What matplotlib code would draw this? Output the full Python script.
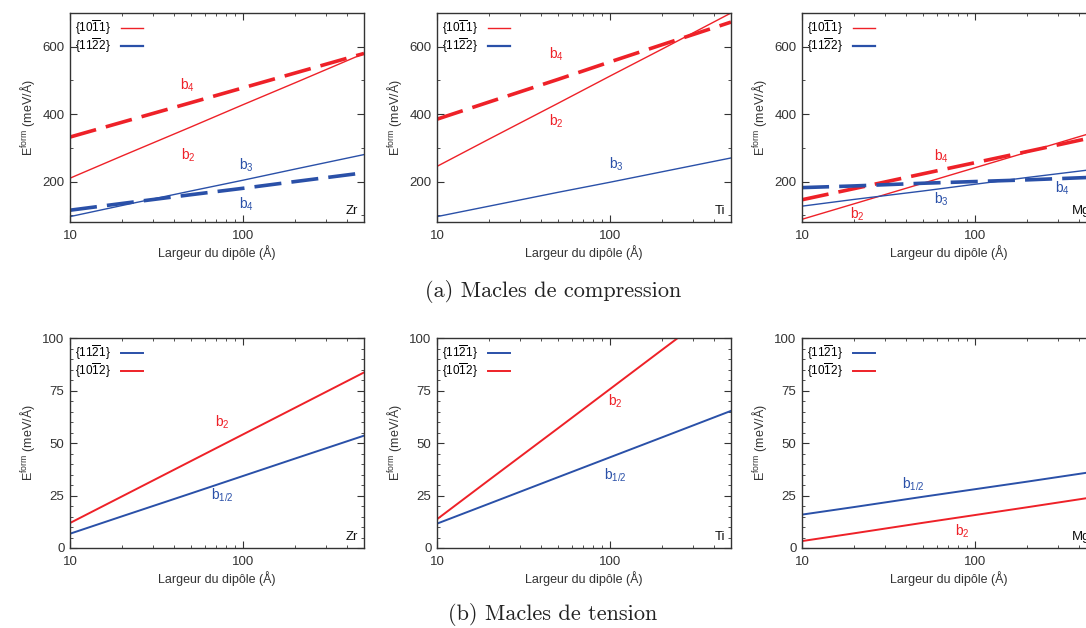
import numpy as np
import matplotlib
matplotlib.use("Agg")
import matplotlib.pyplot as plt
from matplotlib.lines import Line2D
from matplotlib.ticker import MultipleLocator, LogLocator, NullFormatter, FixedLocator

plt.rcParams['font.family'] = ['Liberation Sans', 'DejaVu Sans']
plt.rcParams['mathtext.fontset'] = 'custom'
plt.rcParams['mathtext.rm'] = 'Liberation Sans'
plt.rcParams['mathtext.it'] = 'Liberation Sans:italic'
plt.rcParams['mathtext.default'] = 'regular'

RED = '#ee2128'
BLUE = '#2a50a8'
DARK = '#333333'

# dipole widths (Angstrom)
width = [10, 20, 50, 100, 200, 500]

# (a) compression twins : {10-11} red, {11-22} blue
zr_c_b2 = [210, 276, 362, 428, 493, 580]
zr_c_b4r = [332, 376, 434, 478, 522, 580]
zr_c_b3 = [96, 129, 172, 204, 237, 280]
zr_c_b4b = [115, 135, 161, 180, 200, 226]

ti_c_b2 = [245, 326, 432, 513, 593, 700]
ti_c_b4r = [385, 436, 503, 555, 606, 673]
ti_c_b3 = [96, 127, 168, 198, 229, 270]

mg_c_b2 = [88, 134, 195, 241, 287, 348]
mg_c_b4r = [146, 179, 223, 256, 289, 333]
mg_c_b3 = [127, 147, 172, 192, 212, 237]
mg_c_b4b = [182, 187, 195, 200, 205, 213]

# (b) tension twins : {11-21} blue, {10-12} red
zr_t_b2 = [11.9, 24.6, 41.4, 54.1, 66.8, 83.6]
zr_t_b12 = [6.8, 15.1, 26.0, 34.3, 42.6, 53.5]

ti_t_b2 = [13.7, 32.4, 57.0, 75.7, 94.4, 119.0]
ti_t_b12 = [11.6, 21.1, 33.7, 43.2, 52.7, 65.3]

mg_t_b2 = [3.3, 7.0, 12.0, 15.7, 19.4, 24.4]
mg_t_b12 = [15.9, 19.5, 24.4, 28.0, 31.6, 36.5]

elements = ['Zr', 'Ti', 'Mg']
compression_legend = [r'$\{10\overline{1}1\}$', r'$\{11\overline{2}2\}$']
tension_legend = [r'$\{11\overline{2}1\}$', r'$\{10\overline{1}2\}$']

FIG_W, FIG_H = 1086, 628
fig = plt.figure(figsize=(FIG_W / 100, FIG_H / 100), dpi=100)


def px_axes(left, top, right, bottom):
    return fig.add_axes([left / FIG_W, 1 - bottom / FIG_H,
                         (right - left) / FIG_W, (bottom - top) / FIG_H])


def style_axes(ax, ylim, ymajor, yminor):
    ax.set_xscale('log')
    ax.set_xlim(10, 500)
    ax.set_ylim(*ylim)
    ax.xaxis.set_major_locator(FixedLocator([10, 100]))
    ax.xaxis.set_major_formatter(plt.FuncFormatter(lambda v, p: '%d' % v))
    ax.xaxis.set_minor_locator(LogLocator(base=10, subs=np.arange(2, 10)))
    ax.xaxis.set_minor_formatter(NullFormatter())
    ax.yaxis.set_major_locator(FixedLocator(ymajor))
    ax.yaxis.set_minor_locator(MultipleLocator(yminor))
    ax.tick_params(which='both', direction='in', top=True, right=True,
                   colors=DARK, labelsize=9.5, labelcolor=DARK)
    ax.tick_params(which='major', length=5, width=0.8)
    ax.tick_params(which='minor', length=2.5, width=0.6)
    ax.tick_params(axis='x', which='major', pad=6)
    ax.tick_params(axis='y', which='major', pad=4)
    for s in ax.spines.values():
        s.set_color(DARK)
        s.set_linewidth(1.0)
    ax.set_xlabel('Largeur du dipôle (Å)', fontsize=9, color=DARK, labelpad=2)
    ax.set_ylabel(r'E$^{form}$ (meV/Å)', fontsize=9, color=DARK, labelpad=4)


def add_legend(ax, labels, colors, widths):
    handles = [Line2D([], [], color=c, lw=w) for c, w in zip(colors, widths)]
    ax.legend(handles, labels, loc='upper left', markerfirst=False,
              frameon=False, fontsize=8.5, handlelength=1.9, handletextpad=0.8,
              labelspacing=-0.1, borderaxespad=0.3, borderpad=0.15)


def element_tag(ax, name):
    ax.text(0.98, 0.025, name, transform=ax.transAxes, ha='right',
            va='bottom', fontsize=9.5, color='#111111')


dash = dict(lw=2.6, dashes=(7.5, 2.8))
thin = dict(lw=1.0)

cols = [(70, 364), (437, 731), (802, 1096)]
top_row = (13, 222)
bot_row = (338, 548)

# ---- (a) compression
comp = [
    (zr_c_b2, zr_c_b4r, zr_c_b3, zr_c_b4b),
    (ti_c_b2, ti_c_b4r, ti_c_b3, None),
    (mg_c_b2, mg_c_b4r, mg_c_b3, mg_c_b4b),
]
comp_labels = [
    [('b$_4$', 48, 485, RED), ('b$_2$', 48, 278, RED),
     ('b$_3$', 105, 248, BLUE), ('b$_4$', 105, 133, BLUE)],
    [('b$_4$', 49, 578, RED), ('b$_2$', 49, 378, RED),
     ('b$_3$', 109, 251, BLUE)],
    [('b$_4$', 64, 275, RED), ('b$_3$', 64, 146, BLUE),
     ('b$_2$', 21, 102, RED), ('b$_4$', 321, 179, BLUE)],
]
for i, (b2, b4r, b3, b4b) in enumerate(comp):
    ax = px_axes(cols[i][0], top_row[0], cols[i][1], top_row[1])
    style_axes(ax, (80, 700), [200, 400, 600], 100)
    ax.plot(width, b2, color=RED, **thin)
    ax.plot(width, b4r, color=RED, **dash)
    ax.plot(width, b3, color=BLUE, **thin)
    if b4b is not None:
        ax.plot(width, b4b, color=BLUE, **dash)
    for txt, x, y, c in comp_labels[i]:
        ax.text(x, y, txt, color=c, fontsize=10, ha='center', va='center')
    add_legend(ax, compression_legend, [RED, BLUE], [1.0, 1.6])
    element_tag(ax, elements[i])

# ---- (b) tension
tens = [(zr_t_b2, zr_t_b12), (ti_t_b2, ti_t_b12), (mg_t_b2, mg_t_b12)]
tens_labels = [
    [('b$_2$', 76, 60, RED), ('b$_{1/2}$', 76, 25, BLUE)],
    [('b$_2$', 108, 70, RED), ('b$_{1/2}$', 108, 34.5, BLUE)],
    [('b$_{1/2}$', 44, 30.5, BLUE), ('b$_2$', 84, 8, RED)],
]
for i, (b2, b12) in enumerate(tens):
    ax = px_axes(cols[i][0], bot_row[0], cols[i][1], bot_row[1])
    style_axes(ax, (0, 100), [0, 25, 50, 75, 100], 5)
    ax.plot(width, b12, color=BLUE, lw=1.4)
    ax.plot(width, b2, color=RED, lw=1.4)
    for txt, x, y, c in tens_labels[i]:
        ax.text(x, y, txt, color=c, fontsize=10, ha='center', va='center')
    add_legend(ax, tension_legend, [BLUE, RED], [1.4, 1.4])
    element_tag(ax, elements[i])

fig.text(553 / FIG_W, 1 - 291 / FIG_H, '(a) Macles de compression',
         family='cmr10', fontsize=16, ha='center', va='center', color='#222222')
fig.text(553 / FIG_W, 1 - 614 / FIG_H, '(b) Macles de tension',
         family='cmr10', fontsize=16, ha='center', va='center', color='#222222')

fig.savefig('out.png', dpi=100)
